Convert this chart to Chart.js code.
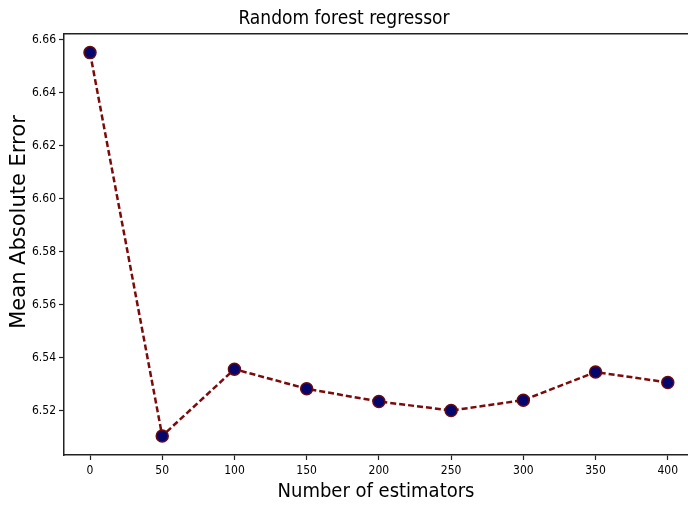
<!DOCTYPE html>
<html>
<head>
<meta charset="utf-8">
<script src="https://cdn.jsdelivr.net/npm/chart.js@4.4.1/dist/chart.umd.min.js"></script>
<style>
  html, body { margin: 0; padding: 0; background: #fff; }
  #wrap { width: 688px; height: 506px; }
</style>
</head>
<body>
<div id="wrap"><canvas id="chart" width="688" height="506"></canvas></div>
<script>
// ==================== DATA ====================
const estimators = [0, 50, 100, 150, 200, 250, 300, 350, 400];
const maeValues = [6.6552, 6.5105, 6.5357, 6.5283, 6.5235, 6.5201, 6.5240, 6.5346, 6.5307];
const xTickValues = [0, 50, 100, 150, 200, 250, 300, 350, 400];
const yTickValues = [6.52, 6.54, 6.56, 6.58, 6.60, 6.62, 6.64, 6.66];

const condensed = "'DejaVu Sans Condensed', 'Liberation Sans Narrow', sans-serif";

// y label and the top spine drawn by hand
const framePlugin = {
  id: "frame",
  afterDraw(chart) {
    const { ctx, chartArea: a } = chart;
    ctx.save();
    ctx.strokeStyle = "#222";
    ctx.lineWidth = 1.5;
    ctx.beginPath();
    ctx.moveTo(a.left, a.top);
    ctx.lineTo(a.right, a.top);
    ctx.stroke();

    ctx.translate(20, 222);
    ctx.rotate(-Math.PI / 2);
    ctx.fillStyle = "#000";
    ctx.font = "21px 'DejaVu Sans', sans-serif";
    ctx.textAlign = "center";
    ctx.textBaseline = "middle";
    ctx.fillText("Mean Absolute Error", 0, 0);
    ctx.restore();
  }
};

const ctx = document.getElementById("chart").getContext("2d");
new Chart(ctx, {
  type: "line",
  data: {
    datasets: [{
      data: estimators.map((x, i) => ({ x: x, y: maeValues[i] })),
      borderColor: "#7d0a0a",
      borderWidth: 2.5,
      borderDash: [6, 3],
      pointRadius: 6,
      pointHoverRadius: 6,
      pointBackgroundColor: "#05056e",
      pointBorderColor: "#6b0a0a",
      pointBorderWidth: 1.5,
      tension: 0,
      clip: false
    }]
  },
  options: {
    responsive: false,
    animation: false,
    layout: { padding: 0, autoPadding: false },
    plugins: {
      legend: { display: false },
      tooltip: { enabled: false },
      title: {
        display: true,
        text: "Random forest regressor",
        color: "#000",
        font: { family: condensed, size: 19, weight: "normal" },
        padding: { top: 8, bottom: 3 }
      }
    },
    scales: {
      x: {
        type: "linear",
        min: -18,
        max: 414,
        afterBuildTicks: s => { s.ticks = xTickValues.map(v => ({ value: v })); },
        afterFit: s => { s.height = 51; s.paddingRight = 0; s.paddingLeft = 0; },
        grid: { drawOnChartArea: false, drawTicks: true, tickLength: 5, color: "#222", tickWidth: 1.2 },
        border: { color: "#222", width: 1.5 },
        ticks: { color: "#000", font: { family: condensed, size: 12 }, padding: 4, maxRotation: 0 },
        title: {
          display: true,
          text: "Number of estimators",
          color: "#000",
          font: { family: condensed, size: 20 },
          padding: { top: 0, bottom: 2 }
        }
      },
      y: {
        min: 6.5033,
        max: 6.6623,
        afterBuildTicks: s => { s.ticks = yTickValues.map(v => ({ value: v })); },
        afterFit: s => { s.width = 64; },
        grid: { drawOnChartArea: false, drawTicks: true, tickLength: 5, color: "#222", tickWidth: 1.2 },
        border: { color: "#222", width: 1.5 },
        ticks: {
          color: "#000",
          font: { family: condensed, size: 12 },
          padding: 3,
          callback: v => v.toFixed(2)
        }
      }
    }
  },
  plugins: [framePlugin]
});
</script>
</body>
</html>
